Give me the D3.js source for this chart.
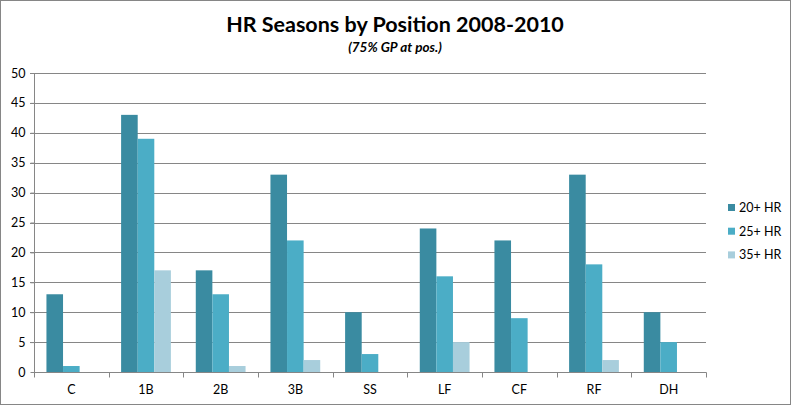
<!DOCTYPE html>
<html><head><meta charset="utf-8">
<script src="https://cdn.jsdelivr.net/npm/d3@7"></script>
<style>body{margin:0;background:#fff}svg{display:block}text{font-family:Lato,"Open Sans",sans-serif}</style>
</head><body><svg id="c" width="792" height="406"></svg>
<script>
const categories = ["C","1B","2B","3B","SS","LF","CF","RF","DH"];
const seriesNames = ["20+ HR","25+ HR","35+ HR"];
const hr20 = [13,43,17,33,10,24,22,33,10];
const hr25 = [1,39,13,22,3,16,9,18,5];
const hr35 = [0,17,1,2,0,5,0,2,0];
const yTicks = [0,5,10,15,20,25,30,35,40,45,50];
const colors = ["#3A8BA1","#4BADC6","#A8CEDC"];
const series = [hr20,hr25,hr35];

const svg = d3.select("#c");
svg.append("rect").attr("x",0.5).attr("y",0.5).attr("width",790).attr("height",404)
  .attr("fill","#fff").attr("stroke","#868686");

const L=34, R=706, T=73, B=372;
const x = d3.scaleBand().domain(categories).range([L,R]).paddingInner(0).paddingOuter(0);
const x1 = d3.scaleBand().domain(seriesNames).range([0,x.bandwidth()]).paddingOuter(0.75).paddingInner(0);
const y = d3.scaleLinear().domain([0,50]).range([B,T]);

// gridlines
svg.append("g").selectAll("line").data(yTicks.filter(d=>d>0)).join("line")
  .attr("x1",L-4).attr("x2",R).attr("y1",d=>Math.round(y(d))+0.5).attr("y2",d=>Math.round(y(d))+0.5)
  .attr("stroke","#868686");

// bars
const g = svg.append("g");
series.forEach((vals,si)=>{
  g.selectAll(null).data(categories).join("rect")
    .attr("x",(c)=>x(c)+x1(seriesNames[si]))
    .attr("width",x1.bandwidth())
    .attr("y",(c,i)=>y(vals[i]))
    .attr("height",(c,i)=>y(0)-y(vals[i]))
    .attr("fill",colors[si]);
});

// y axis
const ya = svg.append("g").attr("transform",`translate(${L+0.5},0)`)
  .call(d3.axisLeft(y).tickValues(yTicks).tickSize(4).tickPadding(5));
ya.select(".domain").attr("stroke","#868686").attr("d",`M-4,${T+0.5}H0V${B}`);
ya.selectAll(".tick line").attr("stroke","#868686");
ya.selectAll("text").attr("font-size",12.5).attr("fill","#000");

// x axis
const xa = svg.append("g").attr("transform",`translate(0,${B+0.5})`);
xa.append("line").attr("x1",L).attr("x2",R+0.5).attr("stroke","#868686");
const bounds = categories.map(c=>x(c)).concat([R]);
xa.selectAll(".tk").data(bounds).join("line").attr("class","tk")
  .attr("x1",d=>Math.round(d)+0.5).attr("x2",d=>Math.round(d)+0.5).attr("y1",0).attr("y2",5)
  .attr("stroke","#868686");
xa.selectAll(".lb").data(categories).join("text").attr("class","lb")
  .attr("x",d=>x(d)+x.bandwidth()/2).attr("y",21).attr("text-anchor","middle")
  .attr("font-size",12.5).attr("fill","#000").text(d=>d);

// title
svg.append("text").attr("x",395).attr("y",32).attr("text-anchor","middle")
  .attr("font-size",21.5).attr("font-weight","bold").attr("fill","#000").text("HR Seasons by Position 2008-2010");
svg.append("text").attr("x",395).attr("y",52).attr("text-anchor","middle")
  .attr("font-size",13.5).attr("font-weight","bold").attr("font-style","italic").attr("fill","#000").text("(75% GP at pos.)");

// legend
const lg = svg.append("g").selectAll("g").data(seriesNames).join("g")
  .attr("transform",(d,i)=>`translate(728,${204+i*23.7})`);
lg.append("rect").attr("width",7).attr("height",7).attr("fill",(d,i)=>colors[i]);
lg.append("text").attr("x",11).attr("y",8).attr("font-size",12.5).attr("fill","#000").text(d=>d);
</script></body></html>
